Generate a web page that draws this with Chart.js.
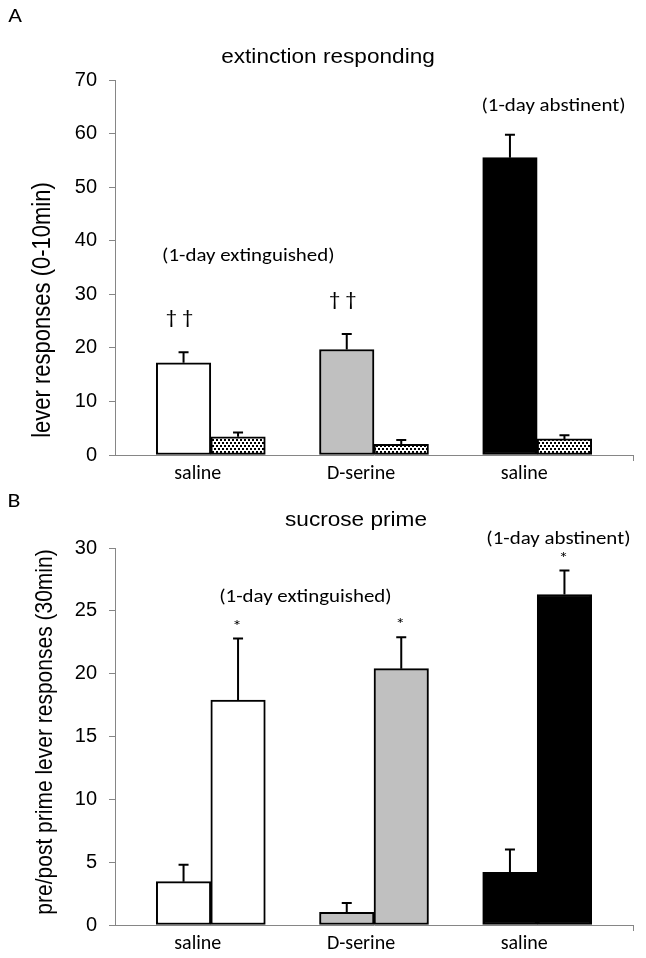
<!DOCTYPE html>
<html>
<head>
<meta charset="utf-8">
<script src="https://cdn.jsdelivr.net/npm/chart.js@4.4.1/dist/chart.umd.min.js"></script>
<style>
  html, body { margin: 0; padding: 0; background: #fff; }
  #wrap { position: relative; width: 646px; height: 958px; }
  canvas { position: absolute; left: 0; }
  #chartA { top: 0; }
  #chartB { top: 480px; }
</style>
</head>
<body>
<div id="wrap">
  <canvas id="chartA" width="646" height="480"></canvas>
  <canvas id="chartB" width="646" height="478"></canvas>
</div>
<script>
/*
 * Data
**/
const groups = ['saline', 'D-serine', 'saline'];
const groupColors = ['#ffffff', '#c0c0c0', '#000000'];

// A: extinction responding, lever responses (0-10min)
const extFirst = [17.2, 19.7, 55.5];
const extFirstSem = [2.0, 2.9, 4.3];
const extSecond = [3.4, 2.0, 3.0];
const extSecondSem = [0.8, 0.8, 0.7];
const extTicks = [0, 10, 20, 30, 40, 50, 60, 70];

// B: sucrose prime, pre/post prime lever responses (30min)
const primePre = [3.45, 1.0, 4.2];
const primePreSem = [1.35, 0.75, 1.8];
const primePost = [17.9, 20.4, 26.3];
const primePostSem = [4.9, 2.5, 1.9];
const primeTicks = [0, 5, 10, 15, 20, 25, 30];

// group notes, anchored in data units (x = group index, y = axis value)
const extNotes = [
  { text: '(1-day extinguished)', x: 0.23, y: 37 },
  { text: '(1-day abstinent)', x: 2.10, y: 65 }
];
const primeNotes = [
  { text: '(1-day extinguished)', x: 0.58, y: 26.1 },
  { text: '(1-day abstinent)', x: 2.13, y: 30.7 }
];
const extMarks = [
  { group: 0, series: 0, text: '\u2020 \u2020' },
  { group: 1, series: 0, text: '\u2020 \u2020' }
];
const primeMarks = [
  { group: 0, series: 1, text: '*' },
  { group: 1, series: 1, text: '*' },
  { group: 2, series: 1, text: '*' }
];

/*
 * Styling
**/
const AXIS_GRAY = '#868686';
const STRETCH = 1.13;   // the figure is a little wider than tall
const ARIAL = '"Liberation Sans", Arial, sans-serif';
const CALIBRI = 'Carlito, Lato, "Open Sans", sans-serif';

function dotPattern() {
  const tile = document.createElement('canvas');
  tile.width = 4;
  tile.height = 6;
  const c = tile.getContext('2d');
  c.fillStyle = '#fff';
  c.fillRect(0, 0, 4, 6);
  c.fillStyle = '#000';
  c.fillRect(0, 1, 2, 2);
  c.fillRect(2, 4, 2, 2);
  return document.createElement('canvas').getContext('2d').createPattern(tile, 'repeat');
}

function drawText(ctx, text, x, y, font, rotate) {
  ctx.save();
  ctx.translate(x, y);
  ctx.scale(STRETCH, 1);
  if (rotate) ctx.rotate(rotate);
  ctx.font = font;
  ctx.fillStyle = '#000';
  ctx.textAlign = 'center';
  ctx.textBaseline = 'middle';
  ctx.fillText(text, 0, 0);
  ctx.restore();
}

// error bars, significance marks, group notes and panel texts
const overlay = {
  id: 'overlay',
  afterDatasetsDraw(chart, args, opts) {
    const { ctx } = chart;
    const yScale = chart.scales.y;
    const xScale = chart.scales.x;
    const errTops = [];

    opts.errors.forEach((errs, d) => {
      const meta = chart.getDatasetMeta(d);
      errTops[d] = [];
      meta.data.forEach((bar, i) => {
        const value = chart.data.datasets[d].data[i];
        const top = yScale.getPixelForValue(value + errs[i]);
        errTops[d][i] = top;
        ctx.save();
        ctx.strokeStyle = '#000';
        ctx.lineWidth = 2;
        ctx.beginPath();
        ctx.moveTo(bar.x, bar.y);
        ctx.lineTo(bar.x, top);
        ctx.moveTo(bar.x - 5, top);
        ctx.lineTo(bar.x + 5, top);
        ctx.stroke();
        ctx.restore();
      });
    });

    opts.marks.forEach((m) => {
      const bar = chart.getDatasetMeta(m.series).data[m.group];
      drawText(ctx, m.text, bar.x + opts.markDx, errTops[m.series][m.group] - opts.markGap, opts.markFont);
    });

    opts.notes.forEach((n) => {
      drawText(ctx, n.text, xScale.getPixelForValue(n.x), yScale.getPixelForValue(n.y), '18.5px ' + CALIBRI);
    });

    drawText(ctx, opts.letter.text, opts.letter.x, opts.letter.y, '21px ' + CALIBRI);
    drawText(ctx, opts.title.text, opts.title.x, opts.title.y, '20px ' + ARIAL);
    drawText(ctx, opts.yTitle.text, opts.yTitle.x, opts.yTitle.y, opts.yTitle.font, -Math.PI / 2);
  }
};

function makePanel(canvasId, panel) {
  const canvas = document.getElementById(canvasId);
  const xMin = -0.587;
  const xMax = 2.587;

  return new Chart(canvas, {
    type: 'bar',
    data: {
      labels: groups.map((_, i) => i),
      datasets: panel.series.map((s) => ({
        data: s.values,
        backgroundColor: s.fill,
        borderColor: '#000',
        borderWidth: 2,
        borderSkipped: false,
        barThickness: 54.5
      }))
    },
    options: {
      responsive: false,
      animation: false,
      events: [],
      layout: {
        padding: { top: panel.top, right: 13, left: 0, bottom: 0 }
      },
      plugins: {
        legend: { display: false },
        tooltip: { enabled: false },
        overlay: {
          errors: panel.series.map((s) => s.sem),
          marks: panel.marks,
          markDx: panel.markDx,
          markGap: panel.markGap,
          markFont: panel.markFont,
          notes: panel.notes,
          letter: panel.letter,
          title: panel.title,
          yTitle: panel.yTitle
        }
      },
      scales: {
        x: {
          type: 'linear',
          offset: false,
          min: xMin,
          max: xMax,
          afterFit: (scale) => { scale.height = canvas.height - panel.bottom; },
          afterBuildTicks: (scale) => {
            scale.ticks = [0, 1, 2, xMax].map((v) => ({ value: v }));
          },
          ticks: {
            autoSkip: false,
            maxRotation: 0,
            labelOffset: -13,
            padding: 1,
            color: '#000',
            font: { family: CALIBRI, size: 20 },
            callback: (value, index) => groups[index] || ''
          },
          grid: {
            offset: false,
            drawOnChartArea: false,
            drawTicks: true,
            tickLength: 6,
            tickColor: (ctx) => (ctx.index === 3 ? AXIS_GRAY : 'transparent')
          },
          border: { color: AXIS_GRAY, width: 1 }
        },
        y: {
          min: 0,
          max: panel.ticks[panel.ticks.length - 1],
          afterFit: (scale) => { scale.width = 115; },
          afterBuildTicks: (scale) => {
            scale.ticks = panel.ticks.map((v) => ({ value: v }));
          },
          ticks: {
            padding: 12,
            color: '#000',
            font: { family: ARIAL, size: 20 }
          },
          grid: {
            drawOnChartArea: false,
            drawTicks: true,
            tickLength: 6,
            color: AXIS_GRAY
          },
          border: { color: AXIS_GRAY, width: 1 }
        }
      }
    },
    plugins: [overlay]
  });
}

const dots = dotPattern();

makePanel('chartA', {
  top: 80,
  bottom: 455,
  ticks: extTicks,
  series: [
    { values: extFirst, sem: extFirstSem, fill: groupColors },
    { values: extSecond, sem: extSecondSem, fill: dots }
  ],
  marks: extMarks,
  markDx: -4,
  markGap: 33,
  markFont: '20px ' + CALIBRI,
  notes: extNotes,
  letter: { text: 'A', x: 15, y: 17 },
  title: { text: 'extinction responding', x: 328, y: 57 },
  yTitle: { text: 'lever responses (0-10min)', x: 43, y: 310, font: '22px ' + ARIAL }
});

makePanel('chartB', {
  top: 68,
  bottom: 445,
  ticks: primeTicks,
  series: [
    { values: primePre, sem: primePreSem, fill: groupColors },
    { values: primePost, sem: primePostSem, fill: groupColors }
  ],
  marks: primeMarks,
  markDx: -1,
  markGap: 12,
  markFont: '17px ' + CALIBRI,
  notes: primeNotes,
  letter: { text: 'B', x: 14, y: 22 },
  title: { text: 'sucrose prime', x: 356, y: 40 },
  yTitle: { text: 'pre/post prime lever responses (30min)', x: 45, y: 252, font: '21px ' + ARIAL }
});
</script>
</body>
</html>
